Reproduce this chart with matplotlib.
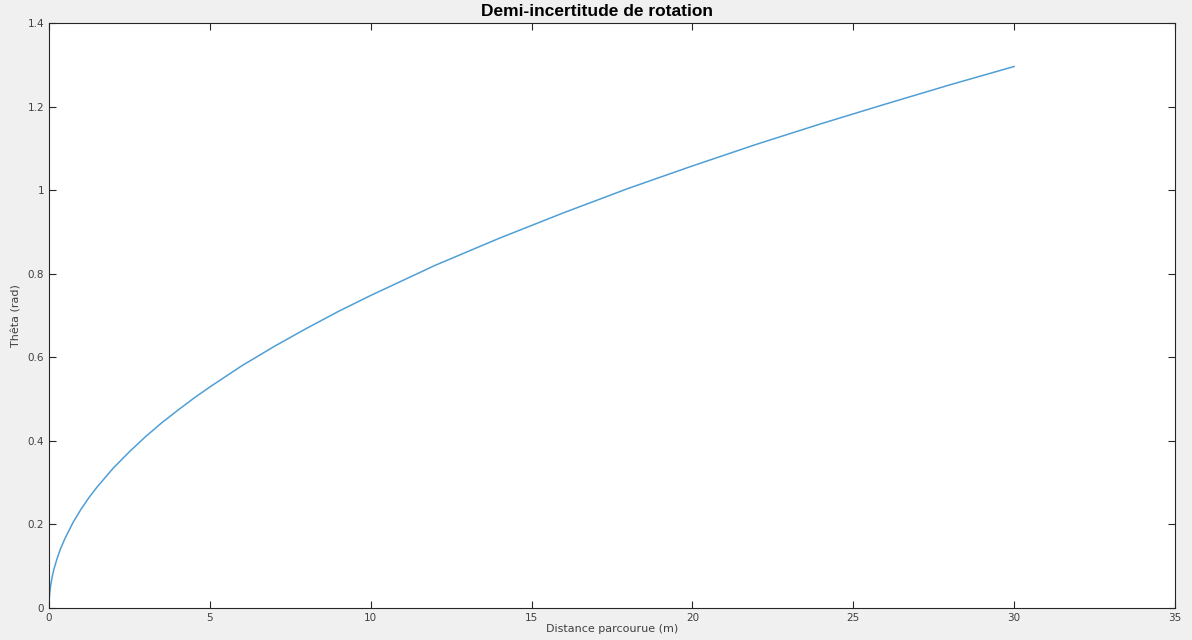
import matplotlib
matplotlib.use('Agg')
import matplotlib.pyplot as plt

# valeurs
distance = [0, 0.005, 0.02, 0.05, 0.1, 0.15, 0.25, 0.35, 0.5, 0.75, 1, 1.25, 1.5, 2, 2.5, 3, 3.5, 4, 4.5,
            5, 6, 7, 8, 9, 10, 12, 14, 16, 18, 20, 22, 24, 26, 28, 30]
theta = [0, 0.017, 0.034, 0.053, 0.075, 0.092, 0.118, 0.14, 0.167, 0.205, 0.237, 0.265, 0.29, 0.335,
         0.374, 0.41, 0.443, 0.473, 0.502, 0.529, 0.58, 0.626, 0.669, 0.71, 0.748,
         0.82, 0.885, 0.946, 1.004, 1.058, 1.11, 1.159, 1.206, 1.252, 1.296]
x_ticks = [0, 5, 10, 15, 20, 25, 30, 35]
y_ticks = [0, 0.2, 0.4, 0.6, 0.8, 1, 1.2, 1.4]
y_tick_labels = ['0', '0.2', '0.4', '0.6', '0.8', '1', '1.2', '1.4']

fig = plt.figure(figsize=(11.92, 6.4), dpi=100, facecolor='#f0f0f0')
ax = fig.add_axes([0.0411, 0.05, 0.9446, 0.914])
ax.plot(distance, theta, color='#4f9fd6', linewidth=1.1)

ax.set_xlim(0, 35)
ax.set_ylim(0, 1.4)
ax.set_xticks(x_ticks)
ax.set_yticks(y_ticks)
ax.set_yticklabels(y_tick_labels)
ax.tick_params(direction='in', top=True, right=True, length=5, width=0.8,
               colors='#262626', labelsize=7.5, labelcolor='#404040')
for s in ax.spines.values():
    s.set_color('#262626')
    s.set_linewidth(0.8)

ax.set_xlabel('Distance parcourue (m)', fontsize=8, color='#404040', labelpad=1)
ax.set_ylabel('Thêta (rad)', fontsize=8, color='#404040', labelpad=4)
fig.text(597 / 1192, 1 - 12 / 640, 'Demi-incertitude de rotation', fontsize=12.5, fontweight='bold',
         family='Liberation Sans', ha='center', va='center')

fig.savefig('out.png', dpi=100, facecolor=fig.get_facecolor())
